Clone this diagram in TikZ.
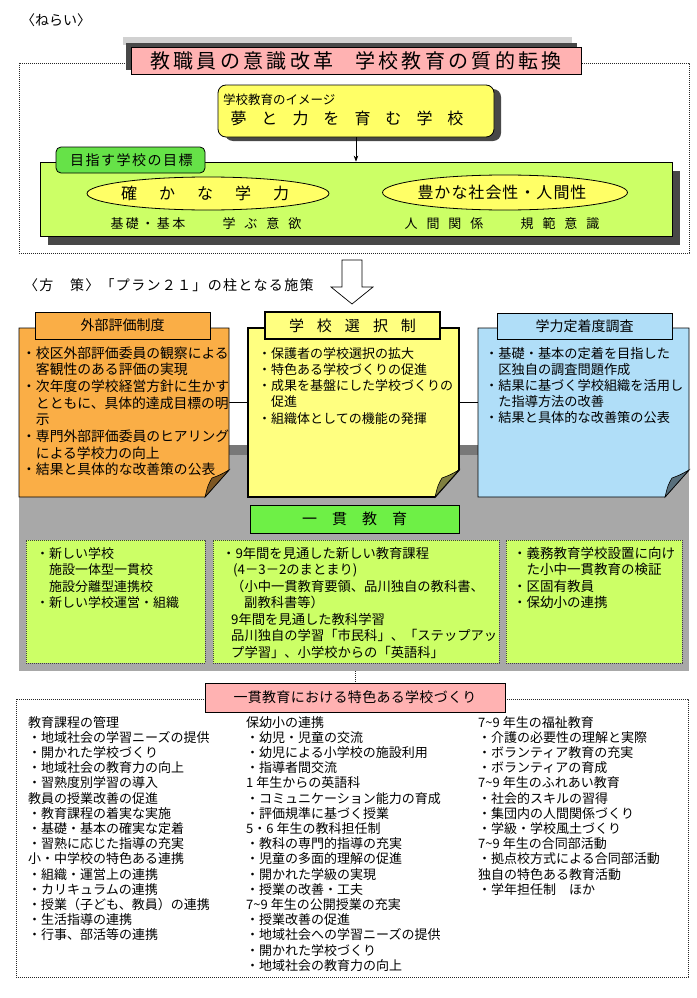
\documentclass[tikz,border=0pt]{standalone}
\usepackage{fontspec}
\setmainfont{Noto Sans CJK JP}
\usetikzlibrary{arrows.meta,shapes.geometric}
\definecolor{pinkc}{RGB}{255,178,178}
\definecolor{yel}{RGB}{255,255,102}
\definecolor{yelcard}{RGB}{255,255,128}
\definecolor{grn}{RGB}{102,226,72}
\definecolor{grnb}{RGB}{110,240,70}
\definecolor{lime}{RGB}{204,255,102}
\definecolor{orng}{RGB}{250,174,70}
\definecolor{bluec}{RGB}{176,222,248}
\definecolor{gry}{RGB}{168,168,168}
\definecolor{gryd}{RGB}{120,120,120}
\definecolor{shad}{RGB}{72,72,72}
\newcommand\fsz[1]{\fontsize{#1}{#1}\selectfont}
\makeatletter
\def\sp@end{\sp@end@}
\newcommand\spreadtxt[2]{\def\sp@gap{#1}\sp@loop#2\sp@end}
\def\sp@loop#1#2{#1\ifx#2\sp@end\else\kern\sp@gap\relax\expandafter\sp@loop\expandafter#2\fi}
\makeatother
\newcommand\textlines[6]{\foreach[count=\k] \lin in {#6}{\node[txt, font=\fsz{#5}] (#1\k) at (#2,{#3+(\k-1)*(#4)}) {\lin};}}
\newcommand\stickycard[6]{%
 \draw[fill=#5, line width=#6] (#1,#2) -- (#3,#2) -- (#3,#4-27) -- (#3-24,#4) -- (#1,#4) -- cycle;
 \draw[fill=#5!50!black, line width=0.6pt] (#3-24,#4) .. controls (#3-21,#4-12) .. (#3-17,#4-19) .. controls (#3-9,#4-22) .. (#3,#4-27) -- cycle;}
\begin{document}
\begin{tikzpicture}[x=1pt,y=-1pt,
 dotline/.style={line width=0.8pt, dash pattern=on 0.8pt off 1.2pt, black!85},
 box/.style={draw, inner sep=0pt, line width=0.8pt},
 txt/.style={inner sep=0pt, anchor=base west},
 ctxt/.style={inner sep=0pt, anchor=base},
 lowbox/.style={fill=lime, draw=black!75, line width=0.8pt, dash pattern=on 0.8pt off 1.2pt, inner sep=0pt},
]
\useasboundingbox (0,0) rectangle (696,998);
\fill[white] (0,0) rectangle (696,998);

% ---------- aims
\node[txt, font=\fsz{14}] (nerai) at (21,26) {〈ねらい〉};
\draw[dotline] (19,63) rectangle (689,253);
\fill[black!18] (123,37) rectangle (572,45);
\fill[shad] (126,43) rectangle (577,70);
\node[box, fill=pinkc, minimum width=450, minimum height=27, font=\fsz{20}] (title) at (356,60.5)
 {\spreadtxt{3.3pt}{教職員の意識改革}\hspace{22pt}\spreadtxt{3.3pt}{学校教育の質的転換}};

\fill[shad, rounded corners=8] (225,89) rectangle (501,141);
\node[box, fill=yel, rounded corners=8, minimum width=276, minimum height=52] (img) at (356,111) {};
\node[txt, font=\fsz{12.5}] (imgsub) at (223,104) {学校教育のイメージ};
\node[ctxt, font=\fsz{16}] (imgmain) at (347,124.5) {\spreadtxt{15pt}{夢と力を育む学校}};

\fill[shad] (48,171) rectangle (680,245);
\node[box, fill=lime, minimum width=632, minimum height=74] (goal) at (356,199) {};
\draw[-{Stealth[length=6pt,width=4.5pt]}, line width=0.6pt] (img.south) -- (img.south |- goal.north);
\node[box, fill=grn, rounded corners=5, minimum width=149, minimum height=26] (gtab) at (130.5,160) {};
\node[txt, font=\fsz{14}] (gtabt) at (70,165.5) {\spreadtxt{1.5pt}{目指す学校の目標}};
\node[box, ellipse, fill=yel, minimum width=242, minimum height=33] (e1) at (208,193.5) {};
\node[ctxt, font=\fsz{16}] (e1t) at (205,199.5) {\spreadtxt{22pt}{確かな学力}};
\node[box, ellipse, fill=yel, minimum width=245, minimum height=35] (e2) at (505,192.5) {};
\node[ctxt, font=\fsz{16}] (e2t) at (502,198.5) {\spreadtxt{1pt}{豊かな社会性・人間性}};
\node[ctxt, font=\fsz{13}] (g1) at (148,228) {\spreadtxt{2.5pt}{基礎・基本}};
\node[ctxt, font=\fsz{13}] (g2) at (262,228) {\spreadtxt{9pt}{学ぶ意欲}};
\node[ctxt, font=\fsz{13}] (g3) at (444,228) {\spreadtxt{9pt}{人間関係}};
\node[ctxt, font=\fsz{13}] (g4) at (560,228) {\spreadtxt{9pt}{規範意識}};

% ---------- measures
\node[txt, font=\fsz{14}] (plan) at (24,290) {\spreadtxt{1.3pt}{〈方　策〉「プラン２１」の柱となる施策}};
\draw[fill=white, line width=0.7pt] (342,260) -- (362,260) -- (362,287) -- (373,287) -- (352,304) -- (331,287) -- (342,287) -- cycle;

\fill[gry] (19,445) rectangle (689,671);
\fill[gryd] (19,445) rectangle (689,455);

\coordinate (cl) at (229,402);
\coordinate (cr) at (478,402);
\draw[line width=0.8pt] (cl) -- (cr);

\stickycard{19}{328}{229}{497}{orng}{0.9pt}
\stickycard{248}{328}{459}{497}{yelcard}{1.6pt}
\stickycard{478}{328}{689}{497}{bluec}{0.9pt}

\node[box, fill=orng, minimum width=175, minimum height=27, font=\fsz{14}] (otab) at (122.5,325.5) {外部評価制度};
\node[box, fill=yelcard, line width=1.6pt, minimum width=175, minimum height=27, font=\fsz{15}] (ytab) at (352.5,325.5) {\spreadtxt{13pt}{学校選択制}};
\node[box, fill=bluec, minimum width=175, minimum height=26, font=\fsz{14}] (btab) at (584.5,326) {学力定着度調査};

\textlines{oc}{22}{358}{16.7}{13.8}{{・校区外部評価委員の観察による},{　客観性のある評価の実現},{・次年度の学校経営方針に生かす},{　とともに、具体的達成目標の明},{　示},{・専門外部評価委員のヒアリング},{　による学校力の向上},{・結果と具体的な改善策の公表}}
\textlines{yc}{258}{358}{16.25}{13}{{・保護者の学校選択の拡大},{・特色ある学校づくりの促進},{・成果を基盤にした学校づくりの},{　促進},{・組織体としての機能の発揮}}
\textlines{bc}{485}{358}{16}{13.2}{{・基礎・基本の定着を目指した},{　区独自の調査問題作成},{・結果に基づく学校組織を活用し},{　た指導方法の改善},{・結果と具体的な改善策の公表}}

\node[box, fill=grnb, minimum width=209, minimum height=28, font=\fsz{15}] (ikkan) at (354.5,519) {\spreadtxt{15pt}{一貫教育}};

\node[lowbox, minimum width=179, minimum height=123] (lb1) at (115.5,601.5) {};
\node[lowbox, minimum width=286, minimum height=123] (lb2) at (356,601.5) {};
\node[lowbox, minimum width=176, minimum height=123] (lb3) at (594,601.5) {};

\textlines{la}{36}{558}{16.5}{13}{{・新しい学校},{　施設一体型一貫校},{　施設分離型連携校},{・新しい学校運営・組織}}
\textlines{lm}{222}{558}{16.5}{13.3}{{・9年間を見通した新しい教育課程},{\hspace*{11pt}(4－3－2のまとまり)},{\hspace*{9pt}（小中一貫教育要領、品川独自の教科書、},{\hspace*{22pt}副教科書等）},{\hspace*{9pt}9年間を見通した教科学習},{\hspace*{9pt}品川独自の学習「市民科」、「ステップアッ},{\hspace*{9pt}プ学習」、小学校からの「英語科」}}
\textlines{lr}{513}{558}{16.5}{13.5}{{・義務教育学校設置に向け},{　た小中一貫教育の検証},{・区固有教員},{・保幼小の連携}}

% ---------- characteristic schools
\coordinate (gb) at (355,671);
\draw[dotline] (16,699) rectangle (688,977);
\node[box, fill=pinkc, minimum width=300, minimum height=29, font=\fsz{14}] (pinkb) at (355,697.5) {\spreadtxt{0.3pt}{一貫教育における特色ある学校づくり}};
\draw[dotline] (gb) -- (pinkb.north);

\textlines{ba}{28}{727}{15.2}{13}{{教育課程の管理},{・地域社会の学習ニーズの提供},{・開かれた学校づくり},{・地域社会の教育力の向上},{・習熟度別学習の導入},{教員の授業改善の促進},{・教育課程の着実な実施},{・基礎・基本の確実な定着},{・習熟に応じた指導の充実},{小・中学校の特色ある連携},{・組織・運営上の連携},{・カリキュラムの連携},{・授業（子ども、教員）の連携},{・生活指導の連携},{・行事、部活等の連携}}
\textlines{bm}{246}{727}{15.2}{13}{{保幼小の連携},{・幼児・児童の交流},{・幼児による小学校の施設利用},{・指導者間交流},{1 年生からの英語科},{・コミュニケーション能力の育成},{・評価規準に基づく授業},{5・6 年生の教科担任制},{・教科の専門的指導の充実},{・児童の多面的理解の促進},{・開かれた学級の実現},{・授業の改善・工夫},{7\textasciitilde 9 年生の公開授業の充実},{・授業改善の促進},{・地域社会への学習ニーズの提供},{・開かれた学校づくり},{・地域社会の教育力の向上}}
\textlines{br}{478}{727}{15.2}{13}{{7\textasciitilde 9 年生の福祉教育},{・介護の必要性の理解と実際},{・ボランティア教育の充実},{・ボランティアの育成},{7\textasciitilde 9 年生のふれあい教育},{・社会的スキルの習得},{・集団内の人間関係づくり},{・学級・学校風土づくり},{7\textasciitilde 9 年生の合同部活動},{・拠点校方式による合同部活動},{独自の特色ある教育活動},{・学年担任制　ほか}}
\end{tikzpicture}
\end{document}
